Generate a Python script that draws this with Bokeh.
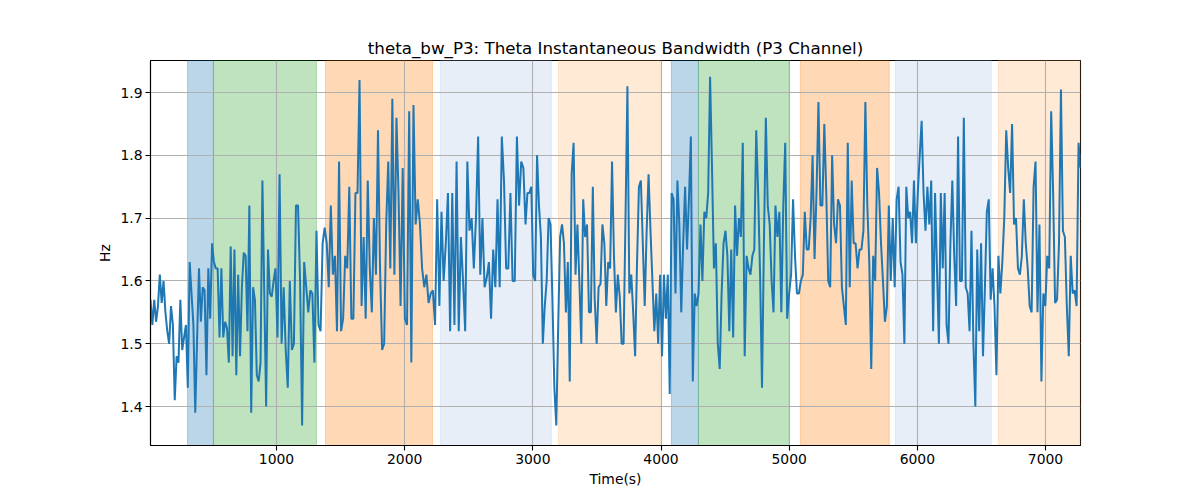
import numpy as np
from bokeh.plotting import figure
from bokeh.models import Range1d, BoxAnnotation, FixedTicker, PrintfTickFormatter
from bokeh.embed import file_html
from bokeh.resources import INLINE

# ---- data -------------------------------------------------------------
title_text = "theta_bw_P3: Theta Instantaneous Bandwidth (P3 Channel)"
x_label = "Time(s)"
y_label = "Hz"
x_ticks = [1000, 2000, 3000, 4000, 5000, 6000, 7000]
y_ticks = [1.4, 1.5, 1.6, 1.7, 1.8, 1.9]

# time edges of the consecutive stretches of samples
seg_edges = [17, 992, 1968, 2943, 3918, 4893, 5869, 6602, 7273]

s1 = [1.57, 1.53, 1.57, 1.535, 1.56, 1.61, 1.565, 1.60, 1.55, 1.52, 1.50, 1.56, 1.53, 1.41,
      1.48, 1.47, 1.57, 1.49, 1.51, 1.53, 1.43, 1.63, 1.58, 1.53, 1.39, 1.51, 1.62, 1.535,
      1.59, 1.585, 1.45, 1.62, 1.54, 1.66, 1.63, 1.62, 1.62, 1.51, 1.62, 1.51, 1.535, 1.525,
      1.47, 1.655, 1.48, 1.65, 1.45, 1.61, 1.48, 1.59, 1.645, 1.64, 1.52, 1.72, 1.39, 1.59,
      1.57, 1.45, 1.44, 1.47, 1.76, 1.58, 1.40, 1.65, 1.58, 1.575, 1.60]
s2 = [1.62, 1.51, 1.77, 1.50, 1.59, 1.49, 1.43, 1.60, 1.49, 1.50, 1.72, 1.72, 1.60, 1.37,
      1.63, 1.59, 1.55, 1.585, 1.58, 1.47, 1.68, 1.53, 1.52, 1.66, 1.685, 1.66, 1.59, 1.72,
      1.61, 1.64, 1.52, 1.79, 1.52, 1.54, 1.64, 1.62, 1.75, 1.54, 1.54, 1.74, 1.74, 1.92,
      1.56, 1.67, 1.54, 1.76, 1.62, 1.55, 1.70, 1.61, 1.84, 1.62, 1.49, 1.50, 1.69, 1.79,
      1.62, 1.89, 1.61, 1.86, 1.74]
s3 = [1.56, 1.78, 1.54, 1.53, 1.87, 1.47, 1.88, 1.69, 1.73, 1.69, 1.62, 1.59, 1.61, 1.565,
      1.58, 1.585, 1.53, 1.73, 1.56, 1.71, 1.60, 1.66, 1.74, 1.52, 1.74, 1.53, 1.79, 1.52,
      1.67, 1.60, 1.52, 1.79, 1.68, 1.70, 1.62, 1.70, 1.83, 1.61, 1.70, 1.59, 1.605, 1.63,
      1.54, 1.65, 1.59, 1.73, 1.59, 1.83, 1.76, 1.62, 1.62, 1.74, 1.60, 1.60, 1.83, 1.72,
      1.79, 1.78]
s4 = [1.69, 1.74, 1.74, 1.75, 1.61, 1.60, 1.80, 1.72, 1.67, 1.50, 1.56, 1.60, 1.70, 1.69,
      1.57, 1.43, 1.37, 1.53, 1.67, 1.69, 1.66, 1.55, 1.63, 1.44, 1.77, 1.82, 1.61, 1.69,
      1.60, 1.50, 1.73, 1.67, 1.69, 1.55, 1.55, 1.75, 1.57, 1.50, 1.59, 1.595, 1.69, 1.66,
      1.56, 1.63, 1.62, 1.79, 1.64, 1.55, 1.61, 1.575, 1.50, 1.50, 1.70, 1.91, 1.58, 1.61,
      1.55, 1.48, 1.63, 1.75, 1.76, 1.66, 1.56, 1.68, 1.77]
s5 = [1.68, 1.60, 1.52, 1.58, 1.50, 1.61, 1.48, 1.61, 1.54, 1.61, 1.42, 1.74, 1.73, 1.58,
      1.76, 1.69, 1.55, 1.66, 1.75, 1.65, 1.73, 1.83, 1.44, 1.58, 1.56, 1.58, 1.69, 1.60,
      1.71, 1.70, 1.74, 1.925, 1.78, 1.62, 1.66, 1.50, 1.46, 1.58, 1.66, 1.68, 1.64, 1.52,
      1.65, 1.51, 1.72, 1.64, 1.70, 1.67, 1.82, 1.48, 1.64, 1.62, 1.61, 1.64, 1.65, 1.84,
      1.74, 1.61, 1.43, 1.66, 1.86, 1.72, 1.69, 1.60, 1.55]
s6 = [1.72, 1.67, 1.71, 1.55, 1.72, 1.82, 1.54, 1.58, 1.61, 1.73, 1.64, 1.58, 1.58, 1.60,
      1.61, 1.71, 1.65, 1.65, 1.70, 1.80, 1.635, 1.74, 1.885, 1.72, 1.72, 1.85, 1.74, 1.60,
      1.59, 1.80, 1.69, 1.66, 1.73, 1.72, 1.59, 1.56, 1.53, 1.82, 1.59, 1.76, 1.66, 1.66,
      1.62, 1.65, 1.65, 1.68, 1.885, 1.72, 1.63, 1.46, 1.64, 1.60, 1.78, 1.74, 1.66, 1.60,
      1.535, 1.56, 1.72, 1.60, 1.70, 1.59, 1.73, 1.75]
s7 = [1.63, 1.61, 1.50, 1.75, 1.70, 1.71, 1.66, 1.76, 1.66, 1.74, 1.80, 1.855, 1.74, 1.68,
      1.75, 1.69, 1.76, 1.52, 1.74, 1.62, 1.50, 1.74, 1.62, 1.74, 1.53, 1.50, 1.66, 1.76,
      1.64, 1.56, 1.83, 1.60, 1.60, 1.86, 1.59, 1.58, 1.52, 1.68, 1.50, 1.40, 1.65, 1.52,
      1.66, 1.48, 1.59, 1.71, 1.73, 1.57, 1.62]
s8 = [1.56, 1.45, 1.64, 1.58, 1.63, 1.70, 1.84, 1.78, 1.74, 1.85, 1.69, 1.70, 1.62, 1.61,
      1.64, 1.73, 1.66, 1.62, 1.56, 1.55, 1.75, 1.79, 1.55, 1.69, 1.44, 1.58, 1.56, 1.64,
      1.62, 1.87, 1.74, 1.565, 1.57, 1.66, 1.905, 1.68, 1.67, 1.56, 1.48, 1.64, 1.58, 1.585,
      1.56, 1.82, 1.78]
segments = [s1, s2, s3, s4, s5, s6, s7, s8]

# shaded stage intervals (time)
span_start = [306, 508, 1382, 2279, 3200, 4081, 4292, 5087, 5828, 6632]
span_end = [508, 1312, 2217, 3145, 3995, 4292, 5001, 5781, 6577, 7300]
span_kind = ["a", "b", "c", "d", "e", "a", "b", "c", "d", "e"]

# ---- assemble samples --------------------------------------------------
times = []
vals = []
for i, seg in enumerate(segments):
    last = i == len(segments) - 1
    t = np.linspace(seg_edges[i], seg_edges[i + 1], len(seg), endpoint=last)
    times.extend(t.tolist())
    vals.extend(seg)

# ---- style -------------------------------------------------------------
kind_color = {"a": "#1f77b4", "b": "#2ca02c", "c": "#ff7f0e", "d": "#aec7e8", "e": "#ffbb78"}
FONT = "DejaVu Sans"

p = figure(width=1192, height=492, output_backend="svg", toolbar_location=None,
           x_range=Range1d(17, 7273), y_range=Range1d(1.338, 1.951),
           title=title_text)
p.min_border_left = 150
p.min_border_right = 112
p.min_border_top = 60
p.min_border_bottom = 47
p.background_fill_color = "white"
p.border_fill_color = "white"
p.outline_line_color = "black"
p.outline_line_width = 1.1

p.title.align = "center"
p.title.text_font = FONT
p.title.text_font_size = "16.7px"
p.title.text_font_style = "normal"
p.title.text_color = "black"
p.title.offset = 0
p.title.standoff = 6

for s, e, k in zip(span_start, span_end, span_kind):
    c = kind_color[k]
    p.add_layout(BoxAnnotation(left=s, right=e, fill_color=c, fill_alpha=0.3,
                               line_color=c, line_alpha=0.3, line_width=1, level="image"))

p.line(times, vals, line_color="#1f77b4", line_width=2.0)

for g in (p.xgrid, p.ygrid):
    g.grid_line_color = "#b0b0b0"
    g.grid_line_width = 1.1
p.xgrid.ticker = FixedTicker(ticks=x_ticks)
p.ygrid.ticker = FixedTicker(ticks=y_ticks)

p.xaxis.ticker = FixedTicker(ticks=x_ticks)
p.yaxis.ticker = FixedTicker(ticks=y_ticks)
p.xaxis.formatter = PrintfTickFormatter(format="%d")
p.yaxis.formatter = PrintfTickFormatter(format="%.1f")
p.xaxis.axis_label = x_label
p.yaxis.axis_label = y_label
for ax in (p.xaxis, p.yaxis):
    ax.major_label_text_font = FONT
    ax.major_label_text_font_size = "13.9px"
    ax.major_label_text_color = "black"
    ax.axis_label_text_font = FONT
    ax.axis_label_text_font_size = "13.9px"
    ax.axis_label_text_font_style = "normal"
    ax.axis_label_text_color = "black"
    ax.axis_line_color = "black"
    ax.axis_line_width = 1.1
    ax.major_tick_line_color = "black"
    ax.major_tick_line_width = 1.1
    ax.major_tick_out = 5
    ax.major_tick_in = 0
    ax.minor_tick_line_color = None
    ax.major_label_standoff = 3
p.xaxis.axis_label_standoff = 4
p.yaxis.axis_label_standoff = 4

open("out.html", "w").write(file_html(p, INLINE))
